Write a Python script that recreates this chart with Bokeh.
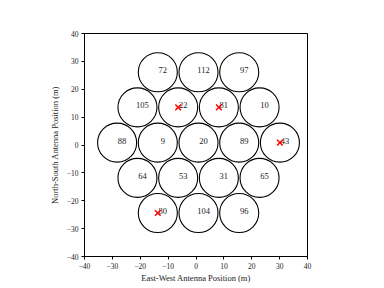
from bokeh.plotting import figure
from bokeh.models import ColumnDataSource, FixedTicker
from bokeh.core.properties import value
from bokeh.embed import file_html
from bokeh.resources import INLINE

ants = [72, 112, 97, 105, 22, 81, 10, 88, 9, 20, 89, 43, 64, 53, 31, 65, 80, 104, 96]
east = [-13.7, 0.9, 15.5, -21.0, -6.4, 8.2, 22.8, -28.3, -13.7, 0.9, 15.5, 30.1,
        -21.0, -6.4, 8.2, 22.8, -13.7, 0.9, 15.5]
north = [26.1, 26.1, 26.1, 13.5, 13.5, 13.5, 13.5, 0.85, 0.85, 0.85, 0.85, 0.85,
         -11.8, -11.8, -11.8, -11.8, -24.4, -24.4, -24.4]
dish_radius = 7.0
flagged = [22, 81, 43, 80]
ticks = [-40, -30, -20, -10, 0, 10, 20, 30, 40]

FONT = "Liberation Serif"

src = ColumnDataSource(dict(x=east, y=north, lab=[str(a) for a in ants]))
fx = [east[ants.index(a)] for a in flagged]
fy = [north[ants.index(a)] for a in flagged]

p = figure(frame_width=223, frame_height=223, x_range=(-40, 40), y_range=(-40, 40),
           output_backend="svg", toolbar_location=None,
           min_border_left=84, min_border_top=33, min_border_right=55, min_border_bottom=22)
p.grid.visible = False
p.outline_line_color = "black"
p.outline_line_width = 1
p.background_fill_color = "white"
p.border_fill_color = "white"

p.circle(x="x", y="y", radius=dish_radius, source=src, fill_alpha=0,
         line_color="black", line_width=1.1)
p.text(x="x", y="y", text="lab", source=src, text_align="center", text_baseline="middle",
       x_offset=5, y_offset=-2, text_font=value(FONT), text_font_size="8.5px",
       text_color="#222222")
p.scatter(fx, fy, marker="x", size=8, line_color="red", line_width=1.5)

labels = {t: (str(t).replace("-", "\u2212")) for t in ticks}
for ax in (p.xaxis[0], p.yaxis[0]):
    ax.ticker = FixedTicker(ticks=ticks)
    ax.major_label_overrides = labels
    ax.minor_tick_line_color = None
    ax.major_tick_in = 0
    ax.major_tick_out = 3
    ax.major_label_text_font = FONT
    ax.major_label_text_font_size = "7.5px"
    ax.major_label_text_color = "#222222"
    ax.axis_label_text_font = FONT
    ax.axis_label_text_font_size = "8.5px"
    ax.axis_label_text_font_style = "normal"
    ax.axis_label_text_color = "#222222"
    ax.axis_line_color = "black"
    ax.major_label_standoff = 3
    ax.axis_label_standoff = 4
p.xaxis[0].axis_label_standoff = 1
p.xaxis.axis_label = "East-West Antenna Position (m)"
p.yaxis.axis_label = "North-South Antenna Position (m)"

open("out.html", "w").write(file_html(p, INLINE))
